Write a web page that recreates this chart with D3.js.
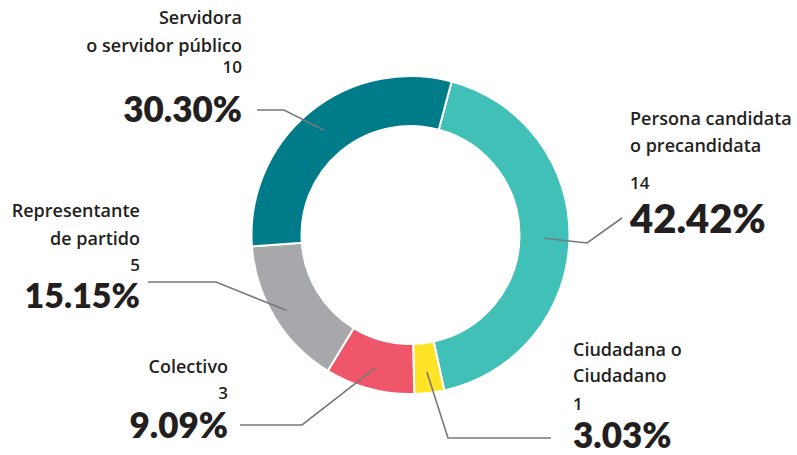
<!DOCTYPE html>
<html><head><meta charset="utf-8">
<script src="https://cdn.jsdelivr.net/npm/d3@7"></script>
<style>
html,body{margin:0;padding:0;background:#fff;}
svg{display:block;}
</style></head>
<body><svg id="chart" width="797" height="455"></svg>
<script>
// ---- data ----
const categories = ["Persona candidata o precandidata", "Ciudadana o Ciudadano", "Colectivo", "Representante de partido", "Servidora o servidor público"];
const counts = [14, 1, 3, 5, 10];
const percentLabels = ["42.42%", "3.03%", "9.09%", "15.15%", "30.30%"];
const labelLines = [
  ["Persona candidata", "o precandidata"],
  ["Ciudadana o", "Ciudadano"],
  ["Colectivo"],
  ["Representante", "de partido"],
  ["Servidora", "o servidor público"]
];
const colors = ["#40c0b7", "#ffe326", "#f0566a", "#a7a8ac", "#007b8a"];

// ---- layout ----
const W = 797, H = 455;
const cx = 410.5, cy = 235, rOuter = 159, rInner = 109;
const startDeg = 15;
const labelFont = "'Open Sans', sans-serif";
const pctFont = "Lato, sans-serif";
const ink = "#231f20";

const labelLayout = [
  {x: 630, anchor: "start", lines: [125, 152], count: 189, pct: 233, pctSize: 40, elbow: [587, 243], end: [622, 218], anchorR: 134},
  {x: 573, anchor: "start", lines: [356, 382], count: 410, pct: 448, pctSize: 35, elbow: [448, 438], end: [551, 438], anchorR: 138},
  {x: 228, anchor: "end", lines: [373], count: 399, pct: 438, pctSize: 35, elbow: [302, 425], end: [240, 425], anchorR: 138},
  {x: 140, anchor: "end", lines: [217, 245], count: 271, pct: 308, pctSize: 34, elbow: [216, 282], end: [148, 282], anchorR: 145},
  {x: 242, anchor: "end", lines: [24, 52], count: 73, pct: 122, pctSize: 35, elbow: [284, 110], end: [257, 110], anchorR: 136}
];

const svg = d3.select("#chart");
svg.append("rect").attr("width", W).attr("height", H).attr("fill", "#fff");

const data = categories.map((c, i) => ({name: c, value: counts[i], i}));
const pie = d3.pie().value(d => d.value).sort(null)
  .startAngle(startDeg * Math.PI / 180)
  .endAngle(startDeg * Math.PI / 180 + 2 * Math.PI);
const arcs = pie(data);
const arc = d3.arc().innerRadius(rInner).outerRadius(rOuter);

const g = svg.append("g").attr("transform", `translate(${cx},${cy})`);
g.selectAll("path.slice").data(arcs).join("path")
  .attr("class", "slice")
  .attr("d", arc)
  .attr("fill", d => colors[d.data.i])
  .attr("stroke", "#fff")
  .attr("stroke-width", 2);

// leader lines
arcs.forEach(a => {
  const L = labelLayout[a.data.i];
  const c = d3.arc().innerRadius(L.anchorR).outerRadius(L.anchorR).centroid(a);
  const p0 = [cx + c[0], cy + c[1]];
  svg.append("path")
    .attr("d", d3.line()([p0, L.elbow, L.end]))
    .attr("fill", "none")
    .attr("stroke", "#77787b")
    .attr("stroke-width", 1.6);
});

// labels
arcs.forEach(a => {
  const i = a.data.i, L = labelLayout[i];
  const t = svg.append("g").attr("fill", ink).attr("text-anchor", L.anchor);
  labelLines[i].forEach((ln, k) => {
    t.append("text").attr("x", L.x).attr("y", L.lines[k])
      .attr("font-family", labelFont).attr("font-size", 18).attr("font-weight", 600).text(ln);
  });
  t.append("text").attr("x", L.x).attr("y", L.count)
    .attr("font-family", labelFont).attr("font-size", 17).attr("font-weight", 600).text(counts[i]);
  t.append("text").attr("x", L.x).attr("y", L.pct)
    .attr("font-family", pctFont).attr("font-size", L.pctSize).attr("font-weight", 800).text(percentLabels[i]);
});
</script></body></html>
